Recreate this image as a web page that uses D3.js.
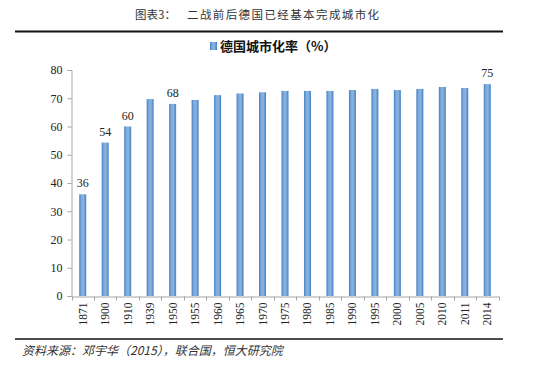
<!DOCTYPE html>
<html>
<head>
<meta charset="utf-8">
<script src="https://cdn.jsdelivr.net/npm/d3@7"></script>
<style>
  body { margin: 0; background: #fff; }
  svg { display: block; }
</style>
</head>
<body>
<svg id="chart" width="550" height="368"></svg>
<script>
const years = ["1871","1900","1910","1939","1950","1955","1960","1965","1970","1975","1980","1985","1990","1995","2000","2005","2010","2011","2014"];
const rates = [36, 54.3, 60, 69.7, 68, 69.4, 71.1, 71.7, 72.1, 72.6, 72.6, 72.6, 72.9, 73.3, 72.9, 73.3, 74.0, 73.6, 75];
const labelled = ["1871", "1900", "1910", "1950", "2014"];
const labelText = ["36", "54", "60", "68", "75"];
const yTicks = [0, 10, 20, 30, 40, 50, 60, 70, 80];

const svg = d3.select("#chart");
const fontCn = "'Noto Sans CJK SC', 'Noto Sans', sans-serif";
const fontNum = "'Liberation Serif', 'DejaVu Serif', serif";

// gradient for bars
const defs = svg.append("defs");
const grad = defs.append("linearGradient").attr("id", "barGrad")
    .attr("x1", "0%").attr("x2", "100%").attr("y1", "0%").attr("y2", "0%");
grad.append("stop").attr("offset", "0%").attr("stop-color", "#3f80c6");
grad.append("stop").attr("offset", "30%").attr("stop-color", "#7ea9da");
grad.append("stop").attr("offset", "60%").attr("stop-color", "#8cb3df");
grad.append("stop").attr("offset", "100%").attr("stop-color", "#3f80c6");

// title
svg.append("text")
    .attr("x", 135).attr("y", 19)
    .attr("font-family", fontCn)
    .attr("font-size", 11.5)
    .attr("fill", "#333")
    .text("图表3：");
svg.append("text")
    .attr("x", 187).attr("y", 19)
    .attr("font-family", fontCn)
    .attr("font-size", 11.5)
    .attr("letter-spacing", 1.4)
    .attr("fill", "#333")
    .text("二战前后德国已经基本完成城市化");

svg.append("line")
    .attr("x1", 15).attr("x2", 503).attr("y1", 31.5).attr("y2", 31.5)
    .attr("stroke", "#111").attr("stroke-width", 2);

// legend
svg.append("rect")
    .attr("x", 210).attr("y", 42).attr("width", 7).attr("height", 8)
    .attr("fill", "url(#barGrad)");
svg.append("text")
    .attr("x", 220).attr("y", 51)
    .attr("font-family", fontCn)
    .attr("font-size", 13)
    .attr("font-weight", "bold")
    .attr("fill", "#111")
    .text("德国城市化率（%）");

const x = d3.scaleBand().domain(years).range([71.5, 498.5]);
const y = d3.scaleLinear().domain([0, 80]).range([296, 70]);

// y axis
const yAxis = svg.append("g")
    .attr("transform", "translate(71.5,0)")
    .call(d3.axisLeft(y).tickValues(yTicks).tickSize(4).tickPadding(5));
yAxis.select(".domain").attr("stroke", "#a6a6a6");
yAxis.selectAll(".tick line").attr("stroke", "#a6a6a6");
yAxis.selectAll(".tick text")
    .attr("font-family", fontNum)
    .attr("font-size", 12)
    .attr("fill", "#222");

// bars
const barW = 7;
svg.append("g").selectAll("rect")
    .data(years)
    .join("rect")
    .attr("x", (d) => x(d) + x.bandwidth() / 2 - barW / 2)
    .attr("y", (d, i) => y(rates[i]))
    .attr("width", barW)
    .attr("height", (d, i) => y(0) - y(rates[i]))
    .attr("fill", "url(#barGrad)");

// x axis
const xAxis = svg.append("g")
    .attr("transform", "translate(0,296.5)")
    .call(d3.axisBottom(x).tickSize(0).tickPadding(0));
xAxis.select(".domain").attr("stroke", "#a6a6a6");
xAxis.selectAll(".tick text")
    .attr("font-family", fontNum)
    .attr("font-size", 11.5)
    .attr("fill", "#222")
    .attr("text-anchor", "end")
    .attr("dy", null)
    .attr("transform", "translate(4,6) rotate(-90)")
    .attr("y", 0);
// tick marks at band boundaries
svg.append("g").selectAll("line")
    .data(years.concat(["end"]))
    .join("line")
    .attr("x1", (d, i) => Math.round(x.range()[0] + i * x.step()) + 0.5)
    .attr("x2", (d, i) => Math.round(x.range()[0] + i * x.step()) + 0.5)
    .attr("y1", 296.5).attr("y2", 300.5)
    .attr("stroke", "#a6a6a6");

// data labels
svg.append("g").selectAll("text")
    .data(labelled)
    .join("text")
    .attr("x", (d) => x(d) + x.bandwidth() / 2)
    .attr("y", (d) => y(rates[years.indexOf(d)]) - 7)
    .attr("text-anchor", "middle")
    .attr("font-family", fontNum)
    .attr("font-size", 12)
    .attr("fill", "#222")
    .text((d, i) => labelText[i]);

// source line
svg.append("line")
    .attr("x1", 15).attr("x2", 503).attr("y1", 339).attr("y2", 339)
    .attr("stroke", "#111").attr("stroke-width", 1.5);
svg.append("text")
    .attr("x", 22).attr("y", 355)
    .attr("font-family", fontCn)
    .attr("font-size", 12)
    .attr("font-style", "italic")
    .attr("fill", "#333")
    .text("资料来源：邓宇华（2015），联合国，恒大研究院");
</script>
</body>
</html>
